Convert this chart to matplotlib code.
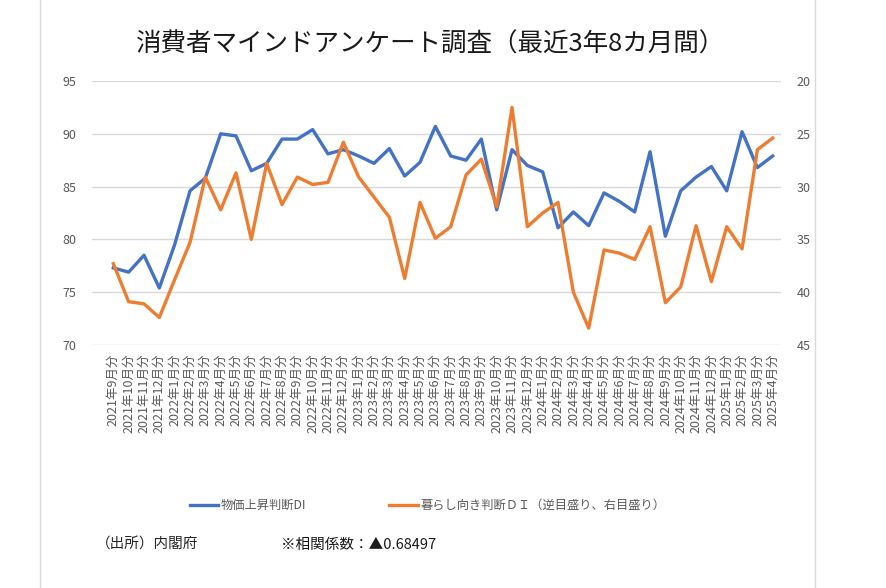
import matplotlib.pyplot as plt
from matplotlib.lines import Line2D

plt.rcParams['font.family'] = ['Noto Sans CJK JP', 'DejaVu Sans']

# months 2021-09 .. 2025-04
months = []
for y, m in [(2021, m) for m in range(9, 13)] + [(yy, m) for yy in (2022, 2023, 2024) for m in range(1, 13)] + [(2025, m) for m in range(1, 5)]:
    months.append(f'{y}年{m}月分')

price_di = [77.3, 76.9, 78.5, 75.4, 79.5, 84.6, 85.8, 90.0, 89.8, 86.5,
            87.2, 89.5, 89.5, 90.4, 88.1, 88.5, 87.9, 87.2, 88.6, 86.0,
            87.3, 90.7, 87.9, 87.5, 89.5, 82.8, 88.5, 87.0, 86.4, 81.1,
            82.6, 81.3, 84.4, 83.6, 82.6, 88.3, 80.3, 84.6, 85.9, 86.9,
            84.6, 90.2, 86.8, 87.9]

life_di = [37.3, 40.9, 41.1, 42.4, 38.8, 35.3, 29.1, 32.2, 28.7, 35.0,
           27.8, 31.7, 29.1, 29.8, 29.6, 25.8, 29.1, 31.0, 32.9, 38.7,
           31.5, 34.9, 33.8, 28.9, 27.4, 31.9, 22.5, 33.8, 32.5, 31.5,
           40.0, 43.4, 36.0, 36.3, 36.9, 33.8, 41.0, 39.5, 33.7, 39.0,
           33.8, 35.9, 26.5, 25.4]

W, H = 886, 588
fig = plt.figure(figsize=(W / 100, H / 100), dpi=100)
fig.patch.set_facecolor('white')

# chart frame
for xp in (40, 815):
    fig.add_artist(Line2D([xp / W, xp / W], [0, 1], color='#d9d9d9', lw=1))

ax = fig.add_axes([92 / W, 1 - 345 / H, (781 - 92) / W, (345 - 81) / H])
x = list(range(len(months)))
ax.plot(x, price_di, color='#4472C4', lw=2.4, solid_joinstyle='round')
ax.set_ylim(70, 95)
ax.set_yticks(range(70, 96, 5))
ax.set_xlim(-1.39, 43.54)
ax.set_xticks(x)
ax.set_xticklabels(months, rotation=90, fontsize=7.2, color='#595959')
ax.grid(axis='y', color='#d9d9d9', lw=1)
ax.set_axisbelow(True)
ax.tick_params(length=0, labelsize=9, labelcolor='#595959')
ax.tick_params(axis='x', pad=6)
ax.tick_params(axis='y', pad=11)
for s in ax.spines.values():
    s.set_visible(False)

ax2 = ax.twinx()
ax2.plot(x, life_di, color='#ED7D31', lw=2.4, solid_joinstyle='round')
ax2.set_ylim(45, 20)
ax2.set_yticks(range(20, 46, 5))
ax2.tick_params(length=0, labelsize=9, labelcolor='#595959', pad=11)
for s in ax2.spines.values():
    s.set_visible(False)

fig.text(431 / W, 1 - 45 / H, '消費者マインドアンケート調査（最近3年8カ月間）',
         ha='center', va='center', fontsize=18.4, color='#1a1a1a')

# legend
ly = 1 - 505 / H
fig.add_artist(Line2D([190 / W, 218 / W], [ly, ly], color='#4472C4', lw=2.4))
fig.text(221 / W, ly, '物価上昇判断DI', va='center', fontsize=8.8, color='#595959')
fig.add_artist(Line2D([389 / W, 418 / W], [ly, ly], color='#ED7D31', lw=2.4))
fig.text(421 / W, ly, '暮らし向き判断ＤＩ（逆目盛り、右目盛り）', va='center', fontsize=8.8, color='#595959')

fig.text(96 / W, 1 - 545 / H, '（出所）内閣府', va='center', fontsize=10.5, color='#262626')
fig.text(281 / W, 1 - 545 / H, '※相関係数：▲0.68497', va='center', fontsize=10.5, color='#1a1a1a')

fig.savefig('out.png', dpi=100)
